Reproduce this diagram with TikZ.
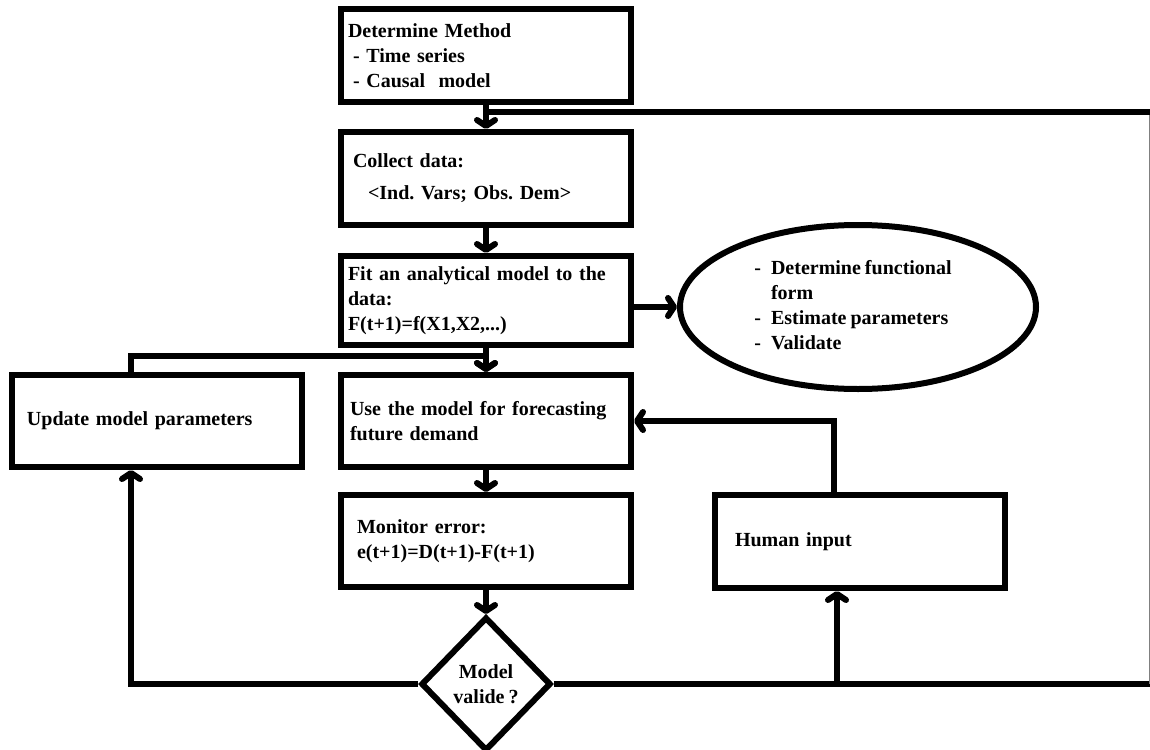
\documentclass[tikz,border=0pt]{standalone}
\usepackage{fontspec}
\setmainfont[WordSpace=0.8]{Liberation Serif}
\frenchspacing
\usetikzlibrary{shapes.geometric,arrows.meta}

\tikzset{
  procbox/.style={draw, line width=6pt, minimum height=92pt, align=left},
  flow/.style={line width=6pt, -{Straight Barb[length=6pt,width=18pt,round]}},
}

\begin{document}
\begin{tikzpicture}[x=1pt, y=-1pt, font=\bfseries\fontsize{20}{25}\selectfont]
    \useasboundingbox (0,0) rectangle (1150,749);
    % main column
    \node[procbox, minimum height=93pt, inner xsep=7pt, text width=276pt] at (486,55.5) (determine) {Determine Method\\\hspace*{5pt}- Time series\\\hspace*{5pt}- Causal\ \ model};
    \node[procbox, minimum height=93pt, inner xsep=12pt, text width=266pt] at (486,178.5) (collect) {Collect data:\\[7pt]\hspace*{15pt}<Ind. Vars; Obs. Dem>};
    \node[procbox, minimum height=89pt, inner xsep=7pt, text width=276pt] at (486,300.5) (fit) {Fit an analytical model to the\\data:\\F(t+1)=f(X1,X2,...)};
    \node[procbox, inner xsep=9pt, text width=272pt] at (486,421) (use) {Use the model for forecasting\\future demand};
    \node[procbox, inner xsep=16pt, text width=258pt] at (486,541) (monitor) {Monitor error:\\e(t+1)=D(t+1)-F(t+1)};
    \node[diamond, draw, line width=6pt, minimum width=130pt, minimum height=134pt, inner sep=0pt, align=center] at (486,684) (valid) {Model\\valide ?};
    % side nodes
    \node[ellipse, draw, line width=6pt, minimum width=356pt, minimum height=164pt, inner sep=0pt] at (858,307) (methods) {\begin{tabular}{@{}l@{\hspace{10pt}}l@{}}-&Determine functional\\&form\\-&Estimate parameters\\-&Validate\end{tabular}\hspace*{10pt}};
    \node[procbox, inner xsep=15pt, text width=260pt] at (157,421) (update) {Update model parameters};
    \node[procbox, minimum height=93pt, inner xsep=20pt, text width=250pt] at (860,541.5) (human) {Human input};

    \coordinate (rightbot) at (1150,684);
    \coordinate (righttop) at (1150,112);
    \coordinate (midjoin) at (486,356);
    \coordinate (humanin) at ([xshift=-23pt]human.south);

    \draw[flow] (determine) -- (collect);
    \draw[flow] (collect) -- (fit);
    \draw[flow] (fit) -- (use);
    \draw[flow] (use) -- (monitor);
    \draw[flow] (monitor) -- (valid);
    \draw[flow] (fit.east |- methods.west) -- (methods.west);
    % feedback loops
    \draw[line width=6pt] (valid.east) -- (rightbot);
    \draw[gray, line width=1pt] ([xshift=-0.5pt]rightbot) -- ([xshift=-0.5pt]righttop);
    \draw[line width=6pt] (righttop) -- (determine.south |- righttop);
    \draw[flow] (valid.west) -| ([xshift=-26pt]update.south);
    \draw[flow] ([xshift=-26pt]update.north) |- (midjoin) -- (use.north);
    \draw[flow] (humanin |- valid.east) -- (humanin);
    \draw[flow] ([xshift=-26pt]human.north) |- (use.east);
\end{tikzpicture}
\end{document}
